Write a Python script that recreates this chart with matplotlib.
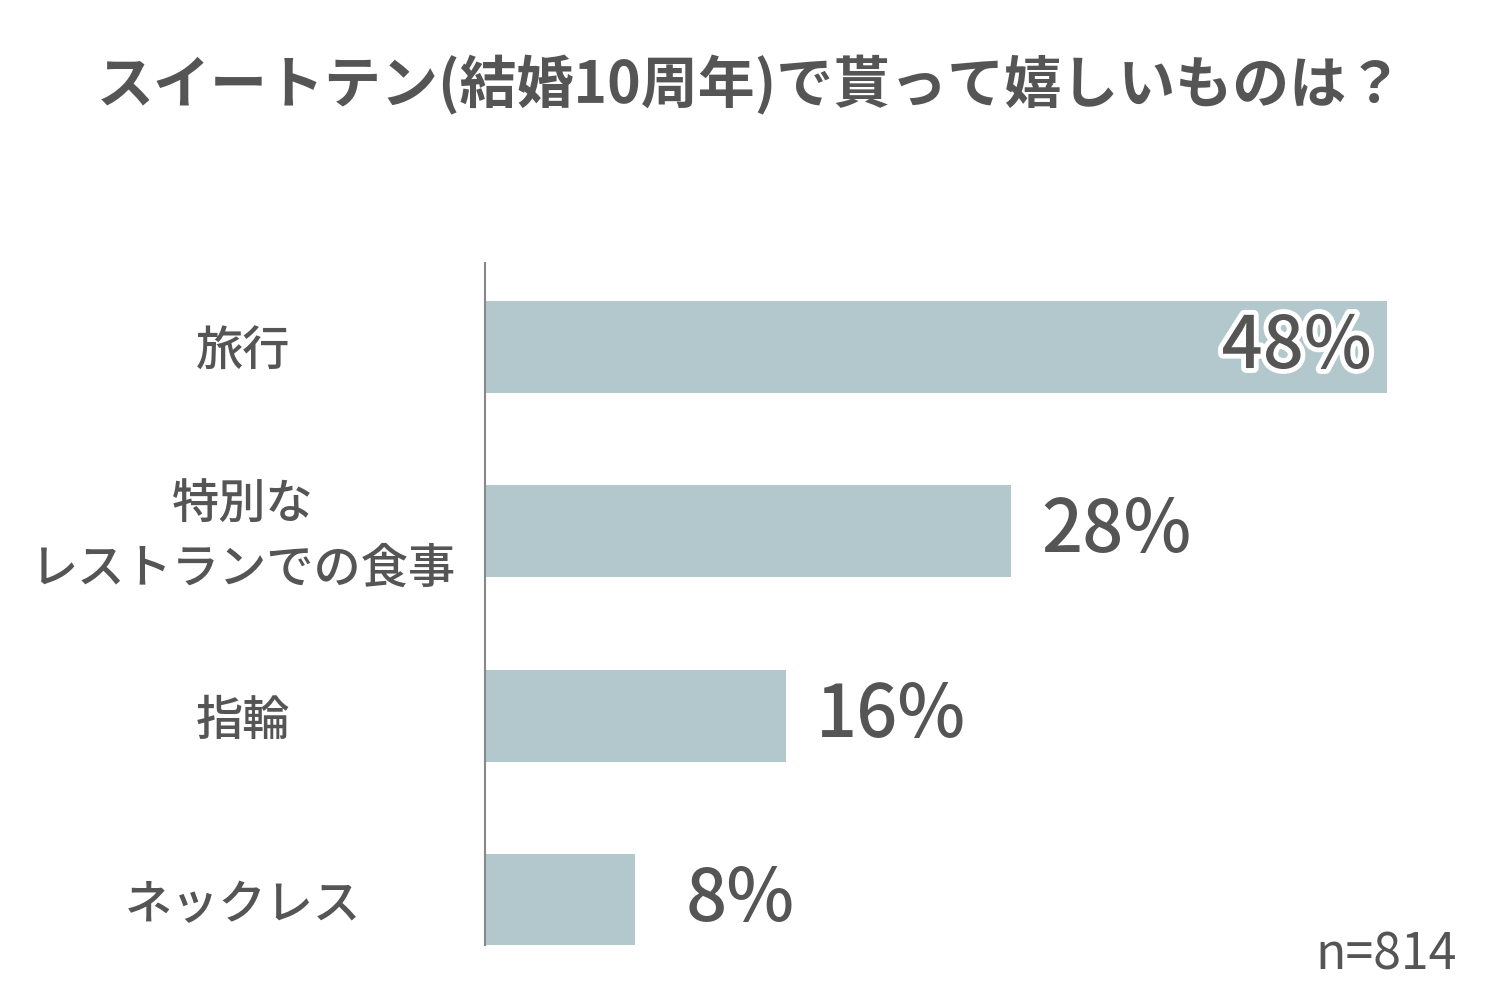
import matplotlib.pyplot as plt
import matplotlib.patheffects as pe

plt.rcParams['font.family'] = ['Noto Sans CJK JP', 'DejaVu Sans']

categories = ['旅行', '特別な\nレストランでの食事', '指輪', 'ネックレス']
values = [48, 28, 16, 8]
labels = ['48%', '28%', '16%', '8%']
title = 'スイートテン(結婚10周年)で貰って嬉しいものは？'
note = 'n=814'

bar_color = '#b2c8cc'
text_color = '#555555'

fig = plt.figure(figsize=(15, 10), dpi=100)
ax = fig.add_axes([485 / 1500, 0.055, 977 / 1500, 0.682])

ypos = range(len(values))
ax.barh(ypos, values, height=0.5, color=bar_color)
ax.set_xlim(0, 52)
ax.set_ylim(3.245, -0.456)

for y, v, lab in zip(ypos, values, labels):
    if v == max(values):
        t = ax.text(v - 4.8, y, lab, ha='center', va='center', fontsize=52,
                    color=text_color, fontweight='medium')
        t.set_path_effects([pe.withStroke(linewidth=7, foreground='white')])
    else:
        ax.text(v + 5.6, y, lab, ha='center', va='center', fontsize=52,
                color=text_color, fontweight='medium')

# category labels sit left of the axis
for y, c in zip(ypos, categories):
    ax.text(-12.9, y + 0.03, c, ha='center', va='center', fontsize=34,
            color=text_color, fontweight='medium', linespacing=1.42)

ax.set_xticks([])
ax.set_yticks([])
for s in ['top', 'right', 'bottom']:
    ax.spines[s].set_visible(False)
ax.spines['left'].set_color('#888888')
ax.spines['left'].set_linewidth(1.5)

fig.text(0.5, 0.915, title, ha='center', va='center', fontsize=41,
         color=text_color, fontweight='bold')
fig.text(1457 / 1500, 0.045, note, ha='right', va='center', fontsize=36,
         color=text_color)

fig.savefig('out.png', dpi=100, facecolor='white')
